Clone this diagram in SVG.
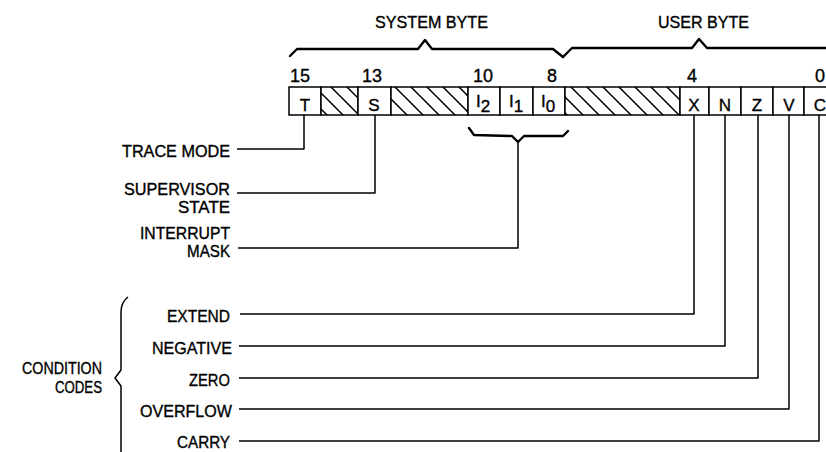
<svg xmlns="http://www.w3.org/2000/svg" width="826" height="452" viewBox="0 0 826 452">
<style>
text{font-family:"Liberation Sans",Arial,sans-serif;fill:#000;stroke:#000;stroke-width:0.35}
.lbl{font-size:17px}
.two{font-size:16px}
.num{font-size:18px;text-anchor:middle}
.bit{font-size:17px;text-anchor:middle}
.box{fill:#fff;stroke:#000;stroke-width:1.5}
.hat{fill:url(#hatch);stroke:#000;stroke-width:1.5}
.ln{fill:none;stroke:#000;stroke-width:1.5;stroke-linejoin:round}
.br{fill:none;stroke:#000;stroke-width:2.4;stroke-linejoin:round;stroke-linecap:round}
</style>
<defs>
<pattern id="hatch" patternUnits="userSpaceOnUse" x="4" y="0" width="16" height="16">
<rect width="16" height="16" fill="#fff"/>
<path d="M0,0L16,16M-2,14L2,18M14,-2L18,2" stroke="#000" stroke-width="1.5"/>
</pattern>
</defs>
<rect width="826" height="452" fill="#fff"/>

<g id="braces">
<path class="br" d="M290,56 L297,49 L418,49 L425,40 L432,49 L553,49 L563,57"/>
<path class="br" d="M563,57 L572,48 L692,48 L699,39 L707,48 L826,48"/>
<path class="br" d="M469,128 L474,135 L512,136 L518,142 L524,136 L563,136 L568,131"/>
<path class="ln" d="M128,297 Q121,302 121,312 L121,370 L115,378 L121,386 L121,452"/>
</g>
<g id="brace-labels">
<text class="lbl" x="375" y="28" textLength="113" lengthAdjust="spacingAndGlyphs">SYSTEM BYTE</text>
<text class="lbl" x="658" y="28" textLength="91" lengthAdjust="spacingAndGlyphs">USER BYTE</text>
</g>
<g id="bit-numbers">
<text class="num" x="300" y="82">15</text>
<text class="num" x="372" y="82">13</text>
<text class="num" x="483" y="82">10</text>
<text class="num" x="552" y="82">8</text>
<text class="num" x="692" y="82">4</text>
<text class="num" x="820" y="82">0</text>
</g>

<g id="register">
<g id="bit-T"><rect class="box" x="289" y="87" width="32" height="28"/><text class="bit" x="305" y="111">T</text></g>
<g id="bit-14"><rect class="hat" x="321" y="87" width="37" height="28"/></g>
<g id="bit-S"><rect class="box" x="358" y="87" width="33" height="28"/><text class="bit" x="374" y="111">S</text></g>
<g id="bit-12-11"><rect class="hat" x="391" y="87" width="77" height="28"/></g>
<g id="bit-I2"><rect class="box" x="468" y="87" width="32" height="28"/><text class="bit" x="483" y="107">I<tspan dy="5">2</tspan></text></g>
<g id="bit-I1"><rect class="box" x="500" y="87" width="33" height="28"/><text class="bit" x="516" y="107">I<tspan dy="5">1</tspan></text></g>
<g id="bit-I0"><rect class="box" x="533" y="87" width="32" height="28"/><text class="bit" x="548" y="107">I<tspan dy="5">0</tspan></text></g>
<g id="bit-7-5"><rect class="hat" x="565" y="87" width="115" height="28"/></g>
<g id="bit-X"><rect class="box" x="680" y="87" width="29" height="28"/><text class="bit" x="694" y="111">X</text></g>
<g id="bit-N"><rect class="box" x="709" y="87" width="32" height="28"/><text class="bit" x="725" y="111">N</text></g>
<g id="bit-Z"><rect class="box" x="741" y="87" width="32" height="28"/><text class="bit" x="757" y="111">Z</text></g>
<g id="bit-V"><rect class="box" x="773" y="87" width="31" height="28"/><text class="bit" x="789" y="111">V</text></g>
<g id="bit-C"><rect class="box" x="804" y="87" width="32" height="28"/><text class="bit" x="820" y="111">C</text></g>
</g>

<g id="connectors">
<path class="ln" d="M304,115 L304,149 L237,149"/>
<path class="ln" d="M375,115 L375,193 L237,193"/>
<path class="ln" d="M518,142 L518,248 L238,248"/>
<path class="ln" d="M694,115 L694,314 L240,314"/>
<path class="ln" d="M725,115 L725,346 L239,346"/>
<path class="ln" d="M758,115 L758,378 L239,378"/>
<path class="ln" d="M789,115 L789,409 L239,409"/>
<path class="ln" d="M819,115 L819,441 L239,441"/>
</g>

<g id="label-trace"><text class="lbl" x="122" y="157" textLength="108" lengthAdjust="spacingAndGlyphs">TRACE MODE</text></g>
<g id="label-supervisor">
<text class="two" x="124" y="195" textLength="106" lengthAdjust="spacingAndGlyphs">SUPERVISOR</text>
<text class="two" x="178" y="213" textLength="52" lengthAdjust="spacingAndGlyphs">STATE</text>
</g>
<g id="label-interrupt">
<text class="two" x="140" y="239" textLength="90" lengthAdjust="spacingAndGlyphs">INTERRUPT</text>
<text class="two" x="187" y="257" textLength="43" lengthAdjust="spacingAndGlyphs">MASK</text>
</g>
<g id="label-extend"><text class="lbl" x="167" y="322" textLength="63" lengthAdjust="spacingAndGlyphs">EXTEND</text></g>
<g id="label-negative"><text class="lbl" x="152" y="354" textLength="80" lengthAdjust="spacingAndGlyphs">NEGATIVE</text></g>
<g id="label-zero"><text class="lbl" x="189" y="386" textLength="41" lengthAdjust="spacingAndGlyphs">ZERO</text></g>
<g id="label-overflow"><text class="lbl" x="140" y="417" textLength="92" lengthAdjust="spacingAndGlyphs">OVERFLOW</text></g>
<g id="label-carry"><text class="lbl" x="177" y="448" textLength="53" lengthAdjust="spacingAndGlyphs">CARRY</text></g>
<g id="label-condition-codes">
<text class="two" x="22" y="374" textLength="80" lengthAdjust="spacingAndGlyphs">CONDITION</text>
<text class="two" x="55" y="393" textLength="47" lengthAdjust="spacingAndGlyphs">CODES</text>
</g>
</svg>
